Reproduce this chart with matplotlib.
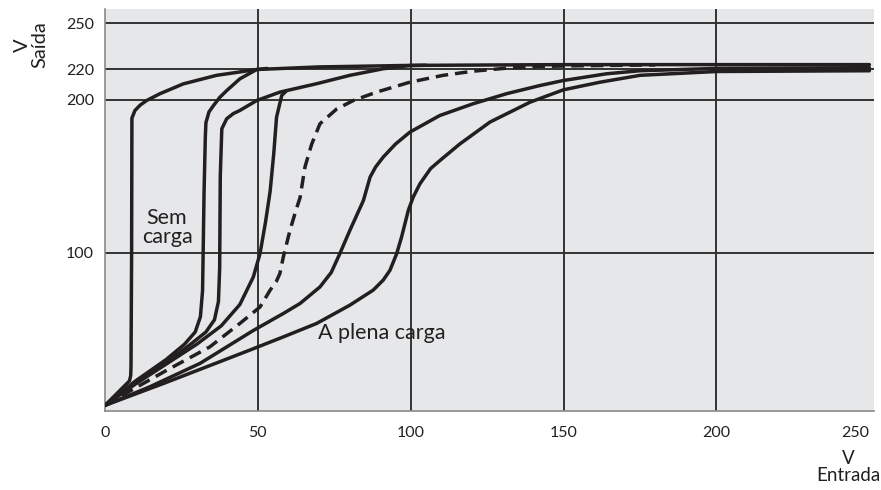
import matplotlib.pyplot as plt

plt.rcParams['font.family'] = ['Lato', 'DejaVu Sans']

# output voltage vs input voltage, from no load to full load
sem_carga_x = [0, 8.0, 8.4, 8.5, 8.7, 8.8, 9.8, 11.5, 13.6, 18, 25.6, 36.5, 49.6, 70, 100, 150, 200, 250]
sem_carga_y = [0, 16, 19.5, 25, 100, 188, 193, 196.5, 199.5, 204, 210.4, 216, 219.8, 221.5, 222.5, 223, 223, 223]

c2_x = [0, 10, 20, 26, 29.5, 31.2, 31.9, 32.1, 32.4, 32.8, 33.0, 34, 35.4, 37.5, 39.8, 44.1, 49.6, 53]
c2_y = [0, 16, 30, 40, 48, 58, 75, 100, 140, 175, 185, 192, 196, 201.5, 206, 213.7, 219.8, 220.5]

c3_x = [0, 10, 20, 28, 33, 35.8, 37.1, 37.5, 37.7, 38.2, 39.8, 42, 44.1, 49.6, 57.2, 69.2, 80.1, 91, 99.7, 105]
c3_y = [0, 15, 28, 40, 48, 56, 68, 90, 150, 181, 187.6, 191, 193, 199.5, 205, 210.5, 216, 220.3, 222.4, 222.6]

c4_x = [0, 10, 20, 30, 38, 44.1, 48.5, 50.7, 52.5, 54, 55.2, 56.1, 57.8, 59.4]
c4_y = [0, 14, 27, 40, 52, 66, 84, 99.3, 120, 140, 165, 188.6, 202.8, 206]

tracejada_x = [0, 10, 20.2, 34.3, 44.1, 50.7, 54, 56, 57.2, 58.3, 60.5, 62.5, 63.8, 65.4, 67.6, 70.3,
               75.8, 81.2, 88.8, 99.7, 110.6, 120.4, 131.4, 142.2, 153, 180]
tracejada_y = [0, 11.5, 23, 38.3, 53.6, 64.4, 75.4, 81, 86.3, 97, 114.6, 128, 136, 156, 171, 184.3,
               194, 199.5, 205, 211.5, 216, 218.7, 220.7, 221.8, 222.2, 222.8]

c6_x = [0, 14.7, 31.1, 48.5, 58.3, 63.8, 70.3, 74, 76.8, 80.1, 84.5, 86.7, 88.5, 91, 95, 99.7, 109.5,
        120.4, 131.4, 142.2, 149.9, 164, 175, 200, 250]
c6_y = [0, 12.2, 27.5, 49, 60.1, 66.7, 77.5, 87, 99.3, 114.6, 134, 149.4, 156, 162.5, 171, 178.8, 189.7,
        197.4, 204, 209.3, 212.6, 217, 219, 220.5, 221]

plena_x = [0, 20, 47.4, 58.3, 69.2, 80.1, 87.7, 91, 93.2, 95.4, 97, 99.2, 100.8, 103, 106.5, 110, 116,
           125.9, 139, 149.9, 161.9, 175, 200, 250]
plena_y = [0, 15, 36.2, 44.8, 53.6, 65.6, 75.4, 82, 88.4, 99.3, 110.2, 127.6, 136.3, 145, 155, 161, 171,
           185.4, 198.4, 206.5, 211.5, 216, 218.5, 219]

x_ticks = [0, 50, 100, 150, 200, 250]
y_ticks = [100, 200, 220, 250]
x_grid = [50, 100, 150, 200]

fig = plt.figure(figsize=(8.81, 4.90), dpi=100)
ax = fig.add_axes([0.1192, 0.1618, 0.8728, 0.8192])
ax.set_facecolor('#e6e7e9')

for v in x_grid:
    ax.axvline(v, color='#333333', lw=1.4, zorder=1)
for v in y_ticks:
    ax.axhline(v, color='#333333', lw=1.4, zorder=1)

estilo = dict(color='#231f20', lw=2.5, solid_joinstyle='round', solid_capstyle='round', zorder=3)
ax.plot(sem_carga_x, sem_carga_y, **estilo)
ax.plot(c2_x, c2_y, **estilo)
ax.plot(c3_x, c3_y, **estilo)
ax.plot(c4_x, c4_y, **estilo)
ax.plot(c6_x, c6_y, **estilo)
ax.plot(plena_x, plena_y, **estilo)
ax.plot(tracejada_x, tracejada_y, color='#231f20', lw=2.5, dashes=(3.6, 2.0), zorder=3)

ax.set_xlim(0, 251.5)
ax.set_ylim(-3.5, 259.2)
ax.set_xticks(x_ticks)
ax.set_yticks(y_ticks)
ax.tick_params(length=0, labelsize=11.5, colors='#231f20')
ax.tick_params(axis='x', pad=11)
ax.tick_params(axis='y', pad=8)
ax.get_xticklabels()[-1].set_horizontalalignment('right')

for s in ['top', 'right']:
    ax.spines[s].set_visible(False)
for s in ['left', 'bottom']:
    ax.spines[s].set_color('#8a8a8a')
    ax.spines[s].set_linewidth(1.2)

ax.text(20.3, 119, 'Sem', fontsize=15.5, ha='center', va='baseline', color='#231f20')
ax.text(20.3, 106, 'carga', fontsize=15.5, ha='center', va='baseline', color='#231f20')
ax.text(69.7, 43.7, 'A plena carga', fontsize=15.5, ha='left', va='baseline', color='#231f20')

fig.text(31 / 881, 1 - 45 / 490, 'V\nSaída', rotation=90, fontsize=14.5, ha='center', va='center',
         multialignment='center', linespacing=1.0, color='#231f20')
fig.text(848 / 881, 1 - 467 / 490, 'V\nEntrada', fontsize=13.5, ha='center', va='center',
         multialignment='center', linespacing=1.0, color='#231f20')

fig.savefig('out.png', dpi=100)
